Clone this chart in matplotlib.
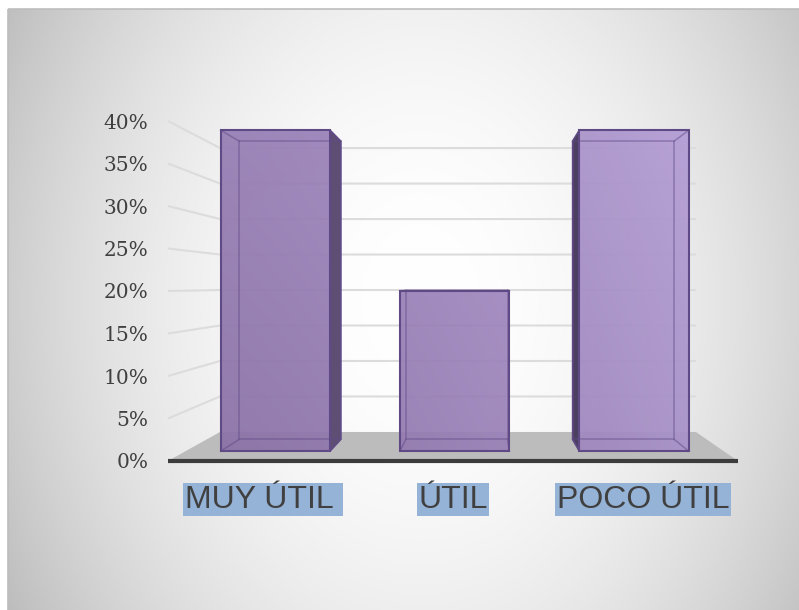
import matplotlib
matplotlib.use("Agg")
import matplotlib.pyplot as plt
from matplotlib.patches import Polygon, Rectangle
import numpy as np

# data
categories = ["MUY ÚTIL ", "ÚTIL", "POCO ÚTIL"]
values = [40, 20, 40]
yticks = [0, 5, 10, 15, 20, 25, 30, 35, 40]

# fake 3d settings (front plane = axes data coords)
VX, VY = 1.658, 20.7      # vanishing point
S_FLOOR_BACK = 0.835      # depth scale of back wall
S_BAR_FRONT = 0.944
S_BAR_BACK = 0.877
BAR_W = 0.61


def proj(x, y, s):
    return VX + s * (x - VX), VY + s * (y - VY)


fig = plt.figure(figsize=(7.99, 6.10), dpi=100)

# background radial gradient
bg = fig.add_axes([0, 0, 1, 1])
bg.set_axis_off()
H, W = 610, 799
yy, xx = np.mgrid[0:H, 0:W]
r = np.sqrt(((xx - 420) / 540.0) ** 2 + ((yy - 300) / 700.0) ** 2)
v = np.clip(255 - 85 * r ** 2, 0, 255) / 255.0
img = np.dstack([v, v, v])
img[:9, :, :] = 1.0
img[:, :8, :] = 1.0
bg.imshow(img, extent=(0, W, H, 0), aspect="auto")
bg.set_xlim(0, W)
bg.set_ylim(H, 0)
bg.add_patch(Rectangle((8, 9), W, H, fill=False, ec="#bdbdbd", lw=1.2))

ax = fig.add_axes([168 / 799, (610 - 461) / 610, 570 / 799, 340 / 610])
ax.set_facecolor("none")
ax.set_xlim(0, 3)
ax.set_ylim(0, 40)
for sp in ax.spines.values():
    sp.set_visible(False)

n = len(categories)

# floor
fx0, fy0 = proj(0, 0, S_FLOOR_BACK)
fx1, fy1 = proj(n, 0, S_FLOOR_BACK)
ax.add_patch(Polygon([(0, 0), (n, 0), (fx1, fy1), (fx0, fy0)], closed=True,
                     fc="#bcbcbc", ec="none", clip_on=False, zorder=1))

# gridlines (side wall diagonal + back wall)
for t in yticks[1:]:
    bx0, by0 = proj(0, t, S_FLOOR_BACK)
    bx1, by1 = proj(n, t, S_FLOOR_BACK)
    ax.plot([0, bx0, bx1], [t, by0, by1], color="#dcdcdc", lw=1.5,
            clip_on=False, zorder=2, solid_capstyle="butt")

ax.plot([0, n], [0, 0], color="#3c3c3c", lw=3, clip_on=False, zorder=3,
        solid_capstyle="butt")

# gradient image for bar faces
gx = np.linspace(0, 3, 300)
gy = np.linspace(0, 42, 300)
GX, GY = np.meshgrid(gx, gy)
tt = np.clip(0.75 * (GX / 3) ** 1.5 + 0.25 * (GY / 40), 0, 1)
dark = np.array([138, 112, 166]) / 255.0
light = np.array([184, 162, 218]) / 255.0
grad = dark[None, None, :] * (1 - tt[..., None]) + light[None, None, :] * tt[..., None]

edge = "#5f4a86"
for i, val in enumerate(values):
    x0 = i + 0.5 - BAR_W / 2
    x1 = i + 0.5 + BAR_W / 2
    f = [proj(x0, 0, S_BAR_FRONT), proj(x1, 0, S_BAR_FRONT),
         proj(x1, val, S_BAR_FRONT), proj(x0, val, S_BAR_FRONT)]
    b = [proj(x0, 0, S_BAR_BACK), proj(x1, 0, S_BAR_BACK),
         proj(x1, val, S_BAR_BACK), proj(x0, val, S_BAR_BACK)]

    # side face (the one facing the vanishing point)
    if x1 < VX:
        side = [f[1], b[1], b[2], f[2]]
        side_col = "#5e4e74"
    elif x0 > VX:
        side = [f[0], b[0], b[3], f[3]]
        side_col = "#4c4060"
    else:
        side = None
    if side is not None:
        ax.add_patch(Polygon(side, closed=True, fc=side_col, ec=edge, lw=1.0,
                             clip_on=False, zorder=4))

    face = Polygon(f, closed=True, fc="none", ec="none", transform=ax.transData)
    ax.add_patch(face)
    im = ax.imshow(grad, extent=(0, 3, 0, 42), origin="lower", aspect="auto",
                   zorder=5, alpha=0.93)
    im.set_clip_path(face)

    # back face edges and connecting edges
    ax.add_patch(Polygon(b, closed=True, fc="none", ec=edge, lw=1.1, alpha=0.5,
                         clip_on=False, zorder=6))
    for k in range(4):
        ax.plot([f[k][0], b[k][0]], [f[k][1], b[k][1]], color=edge, lw=1.1,
                alpha=0.5, clip_on=False, zorder=6)
    ax.add_patch(Polygon(f, closed=True, fc="none", ec=edge, lw=1.5,
                         clip_on=False, zorder=7))

ax.set_xlim(0, 3)
ax.set_ylim(0, 40)

ax.set_yticks(yticks)
ax.set_yticklabels([f"{t}%" for t in yticks], family="DejaVu Serif")
ax.tick_params(axis="y", length=0, pad=14, labelsize=14.5, labelcolor="#404040")

ax.set_xticks([i + 0.5 for i in range(n)])
ax.set_xticklabels(categories, family="Liberation Sans")
ax.tick_params(axis="x", length=0, pad=17, labelsize=23, labelcolor="#404040")
for lab in ax.get_xticklabels():
    lab.set_bbox(dict(boxstyle="square,pad=0.05", fc="#95b3d7", ec="none"))

fig.savefig("out.png", dpi=100)
